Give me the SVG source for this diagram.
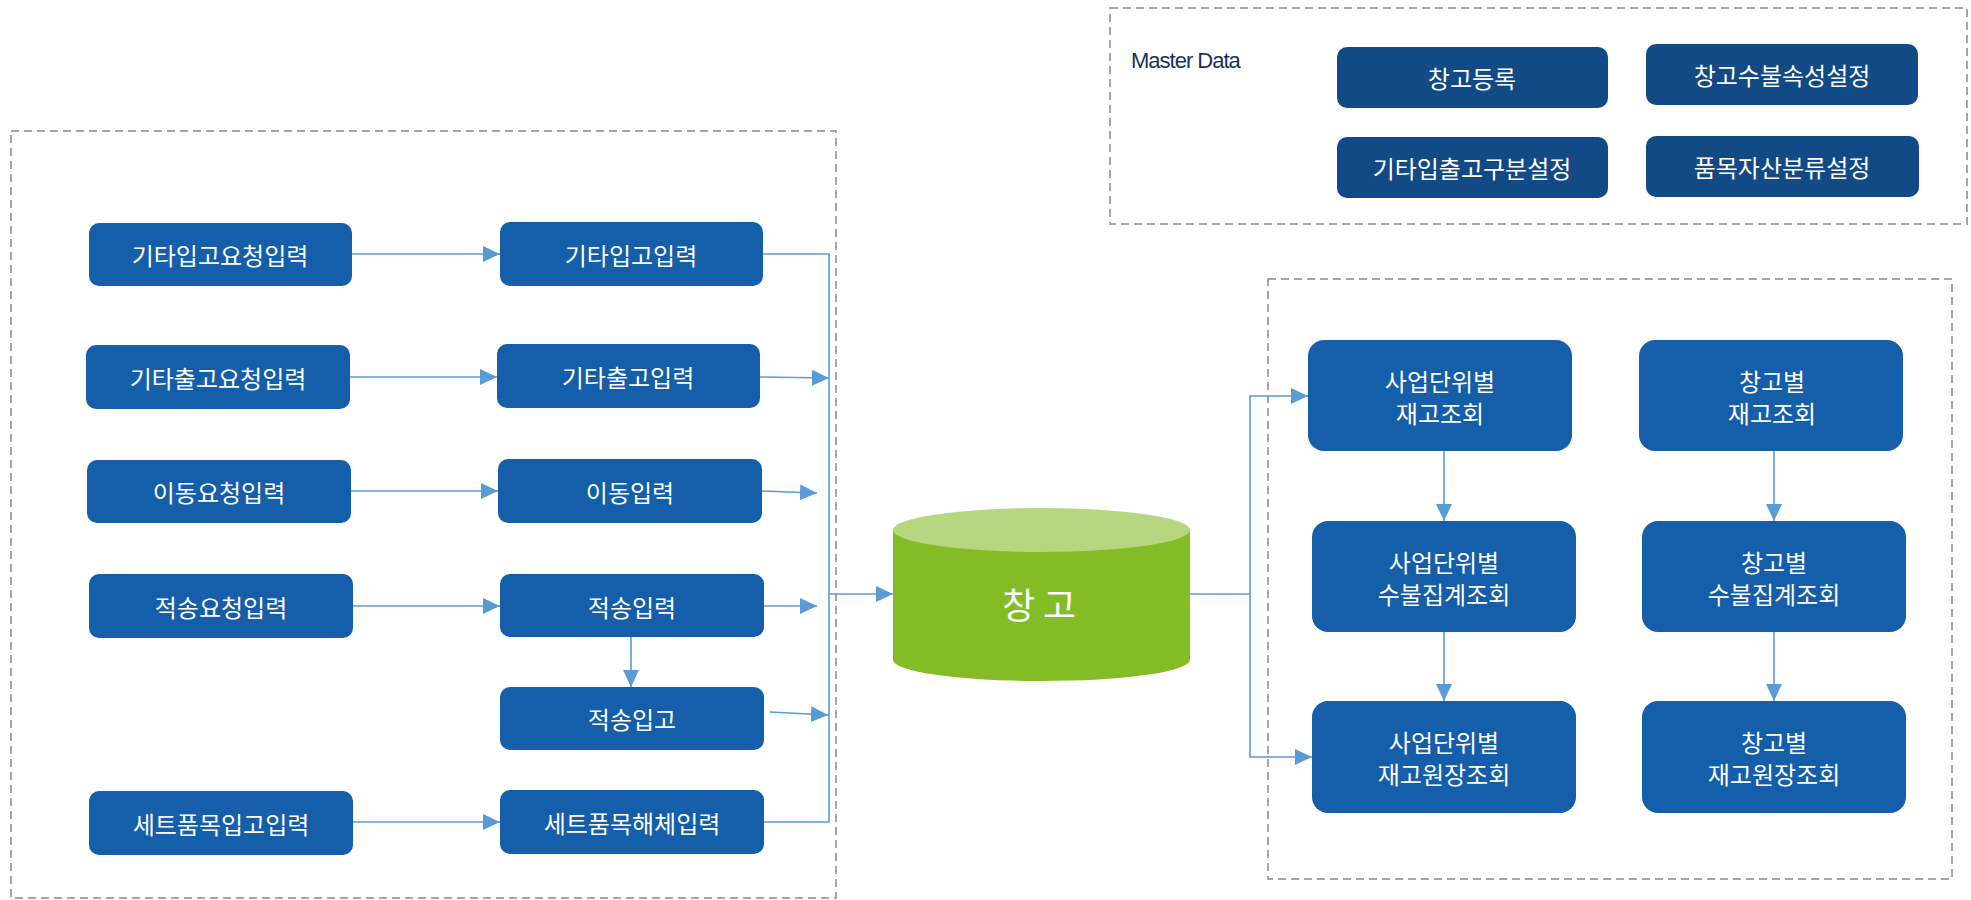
<svg xmlns="http://www.w3.org/2000/svg" width="1971" height="900" viewBox="0 0 1971 900">
<defs>
<marker id="arr" markerUnits="userSpaceOnUse" markerWidth="18" markerHeight="16" refX="17" refY="8" orient="auto"><path d="M0,0 L17,8 L0,16 z" fill="#5b9bd5"/></marker>
<style>
.frame{fill:none;stroke:#a6a6a6;stroke-width:2;stroke-dasharray:8 5}
.box{fill:#155ea9}
.mbox{fill:#124a86}
.t{fill:#fff;font-family:"Noto Sans CJK KR","Noto Sans",sans-serif;font-size:24px;text-anchor:middle;dominant-baseline:central}
.c{fill:none;stroke:#5b9bd5;stroke-width:1.6}
.a{marker-end:url(#arr)}
</style>
</defs>
<rect class="frame" x="11" y="131" width="825" height="767"/>
<rect class="frame" x="1268" y="279" width="684" height="600"/>
<rect class="frame" x="1110" y="8" width="857" height="216"/>
<text x="1131" y="68" font-family="'Liberation Sans',sans-serif" font-size="22" fill="#16335e" letter-spacing="-1">Master Data</text>

<g id="connectors">
<line class="c a" x1="352" y1="254" x2="500" y2="254"/>
<line class="c a" x1="350" y1="377" x2="497" y2="377"/>
<line class="c a" x1="351" y1="491" x2="498" y2="491"/>
<line class="c a" x1="353" y1="606" x2="500" y2="606"/>
<line class="c a" x1="353" y1="822" x2="500" y2="822"/>
<line class="c a" x1="631" y1="637" x2="631" y2="687"/>
<polyline class="c" points="763,254 829,254 829,822 764,822"/>
<line class="c a" x1="760" y1="377" x2="829" y2="378"/>
<line class="c a" x1="762" y1="491" x2="817" y2="493"/>
<line class="c a" x1="764" y1="606" x2="817" y2="606"/>
<line class="c a" x1="770" y1="712" x2="828" y2="715"/>
<line class="c a" x1="829" y1="594" x2="893" y2="594"/>
<polyline class="c" points="1190,594 1250,594"/>
<polyline class="c a" points="1250,594 1250,396 1308,396"/>
<polyline class="c a" points="1250,594 1250,757 1312,757"/>
<line class="c a" x1="1444" y1="451" x2="1444" y2="521"/>
<line class="c a" x1="1444" y1="632" x2="1444" y2="701"/>
<line class="c a" x1="1774" y1="451" x2="1774" y2="521"/>
<line class="c a" x1="1774" y1="632" x2="1774" y2="701"/>
</g>

<g id="n1"><rect class="box" x="89" y="223" width="263" height="63" rx="10"/><text class="t" x="220" y="254">기타입고요청입력</text></g>
<g id="n2"><rect class="box" x="500" y="222" width="263" height="64" rx="10"/><text class="t" x="631" y="254">기타입고입력</text></g>
<g id="n3"><rect class="box" x="86" y="345" width="264" height="64" rx="10"/><text class="t" x="218" y="377">기타출고요청입력</text></g>
<g id="n4"><rect class="box" x="497" y="344" width="263" height="64" rx="10"/><text class="t" x="628" y="376">기타출고입력</text></g>
<g id="n5"><rect class="box" x="87" y="460" width="264" height="63" rx="10"/><text class="t" x="219" y="491">이동요청입력</text></g>
<g id="n6"><rect class="box" x="498" y="459" width="264" height="64" rx="10"/><text class="t" x="630" y="491">이동입력</text></g>
<g id="n7"><rect class="box" x="89" y="574" width="264" height="64" rx="10"/><text class="t" x="221" y="606">적송요청입력</text></g>
<g id="n8"><rect class="box" x="500" y="574" width="264" height="63" rx="10"/><text class="t" x="632" y="606">적송입력</text></g>
<g id="n9"><rect class="box" x="500" y="687" width="264" height="63" rx="10"/><text class="t" x="632" y="718">적송입고</text></g>
<g id="n10"><rect class="box" x="89" y="791" width="264" height="64" rx="10"/><text class="t" x="221" y="823">세트품목입고입력</text></g>
<g id="n11"><rect class="box" x="500" y="790" width="264" height="64" rx="10"/><text class="t" x="632" y="822">세트품목해체입력</text></g>

<g id="warehouse">
<path d="M893,530 L893,660 A148.5,21 0 0 0 1190,660 L1190,530 z" fill="#84bc26"/>
<ellipse cx="1041.5" cy="530" rx="148.5" ry="22" fill="#b6d77f"/>
<text class="t" x="1043" y="603" style="font-size:36px" letter-spacing="8">창고</text>
</g>

<g id="m1"><rect class="mbox" x="1337" y="47" width="271" height="61" rx="10"/><text class="t" x="1472" y="77">창고등록</text></g>
<g id="m2"><rect class="mbox" x="1646" y="44" width="272" height="61" rx="10"/><text class="t" x="1782" y="74">창고수불속성설정</text></g>
<g id="m3"><rect class="mbox" x="1337" y="137" width="271" height="61" rx="10"/><text class="t" x="1472" y="167">기타입출고구분설정</text></g>
<g id="m4"><rect class="mbox" x="1646" y="136" width="273" height="61" rx="10"/><text class="t" x="1782" y="166">품목자산분류설정</text></g>

<g id="r1"><rect class="box" x="1308" y="340" width="264" height="111" rx="16"/><text class="t" x="1440" y="380">사업단위별</text><text class="t" x="1440" y="412">재고조회</text></g>
<g id="r2"><rect class="box" x="1639" y="340" width="264" height="111" rx="16"/><text class="t" x="1772" y="380">창고별</text><text class="t" x="1772" y="412">재고조회</text></g>
<g id="r3"><rect class="box" x="1312" y="521" width="264" height="111" rx="16"/><text class="t" x="1444" y="561">사업단위별</text><text class="t" x="1444" y="593">수불집계조회</text></g>
<g id="r4"><rect class="box" x="1642" y="521" width="264" height="111" rx="16"/><text class="t" x="1774" y="561">창고별</text><text class="t" x="1774" y="593">수불집계조회</text></g>
<g id="r5"><rect class="box" x="1312" y="701" width="264" height="112" rx="16"/><text class="t" x="1444" y="741">사업단위별</text><text class="t" x="1444" y="773">재고원장조회</text></g>
<g id="r6"><rect class="box" x="1642" y="701" width="264" height="112" rx="16"/><text class="t" x="1774" y="741">창고별</text><text class="t" x="1774" y="773">재고원장조회</text></g>
</svg>
